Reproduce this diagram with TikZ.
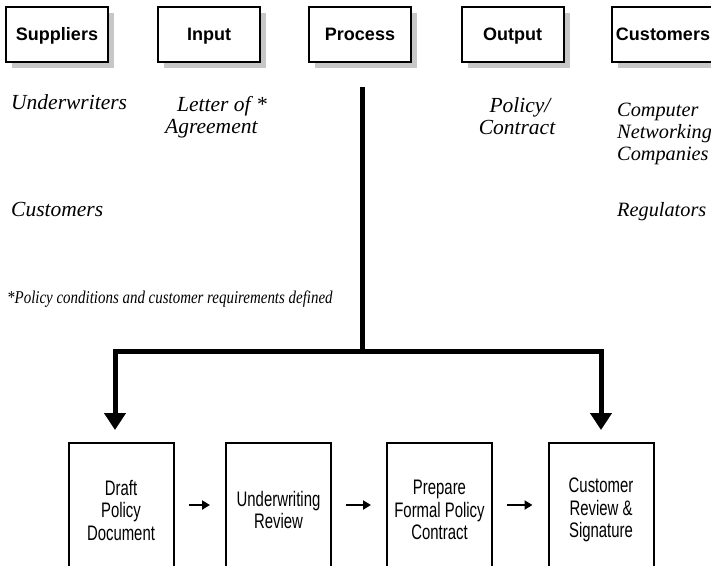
\documentclass[tikz,border=0pt]{standalone}
\usepackage{fontspec}
\setmainfont{Liberation Serif}
\newfontfamily\hsans{Liberation Sans}
\newfontfamily\nsans[FakeStretch=0.71]{Liberation Sans}
\usetikzlibrary{arrows.meta,shadows}
\begin{document}
\begin{tikzpicture}[x=1pt,y=-1pt,
  topbox/.style={draw, line width=2pt, fill=white, minimum width=102pt, minimum height=55pt,
    inner sep=0pt, text height=13pt, text depth=2pt,
    font=\hsans\bfseries\fontsize{18}{20}\selectfont,
    drop shadow={shadow xshift=6pt, shadow yshift=-6pt, fill=black!22, opacity=1}},
  lab/.style={inner sep=0pt, font=\itshape\fontsize{21.5}{23}\selectfont},
  rlab/.style={inner sep=0pt, font=\itshape\fontsize{20.3}{22}\selectfont},
  footlab/.style={inner sep=0pt, font=\itshape\fontsize{18}{20}\selectfont},
  stepbox/.style={draw, line width=2pt, minimum width=105pt, minimum height=134pt,
    inner sep=0pt, align=center, font=\nsans\fontsize{21}{22.5}\selectfont},
  bigline/.style={line width=5pt, line join=miter},
  bigtip/.style={-{Triangle[width=21pt,length=17pt]}},
  smallarrow/.style={line width=2pt, -{Triangle[width=9pt,length=8pt]}, shorten <=14pt, shorten >=15pt}
]
\useasboundingbox (0,0) rectangle (711,565);
\clip (0,0) rectangle (711,565);

% header boxes
\node[topbox] (sup) at (57,34.5) {Suppliers};
\node[topbox] (inp) at (209,34.5) {Input};
\node[topbox] (pro) at (360,34.5) {Process};
\node[topbox] (out) at (512.5,34.5) {Output};
\node[topbox] (cus) at (663,34.5) {Customers};

% italic labels
\node[lab, anchor=base west] (uw) at (11,109) {Underwriters};
\node[lab, anchor=base east] (lt1) at (267,111) {Letter of *};
\node[lab, anchor=base west] (lt2) at (165,133) {Agreement};
\node[lab, anchor=base] (pc1) at (520,112) {Policy/};
\node[lab, anchor=base] (pc2) at (517,134) {Contract};
\node[rlab, anchor=base west] (cc1) at (617,116) {Computer};
\node[rlab, anchor=base west] (cc2) at (617,138) {Networking};
\node[rlab, anchor=base west] (cc3) at (617,160) {Companies};
\node[lab, anchor=base west] (cu) at (11,216) {Customers};
\node[rlab, anchor=base west] (rg) at (617,216) {Regulators};
\node[footlab, anchor=base west] (fn) at (7,303) {\scalebox{0.83}[1]{*Policy conditions and customer requirements defined}};

% process boxes
\node[stepbox] (b1) at (121,510) {Draft\\Policy\\Document};
\node[stepbox] (b2) at (278.5,510) {Underwriting\\Review};
\node[stepbox] (b3) at (439.5,510) {Prepare\\Formal Policy\\Contract};
\node[stepbox] (b4) at (601,510) {Customer\\Review \&\\Signature};

% main flow connector
\coordinate (top) at (362.5,87);
\coordinate (j) at (362.5,351);
\coordinate (aL) at (115,430);
\coordinate (aR) at (601,430);
\draw[bigline] (top) -- (j);
\draw[bigline, bigtip] (j) -| (aL);
\draw[bigline, bigtip] (j) -| (aR);

% step arrows
\draw[smallarrow] ([yshift=5pt]b1.east) -- ([yshift=5pt]b2.west);
\draw[smallarrow] ([yshift=5pt]b2.east) -- ([yshift=5pt]b3.west);
\draw[smallarrow] ([yshift=5pt]b3.east) -- ([yshift=5pt]b4.west);
\end{tikzpicture}
\end{document}
